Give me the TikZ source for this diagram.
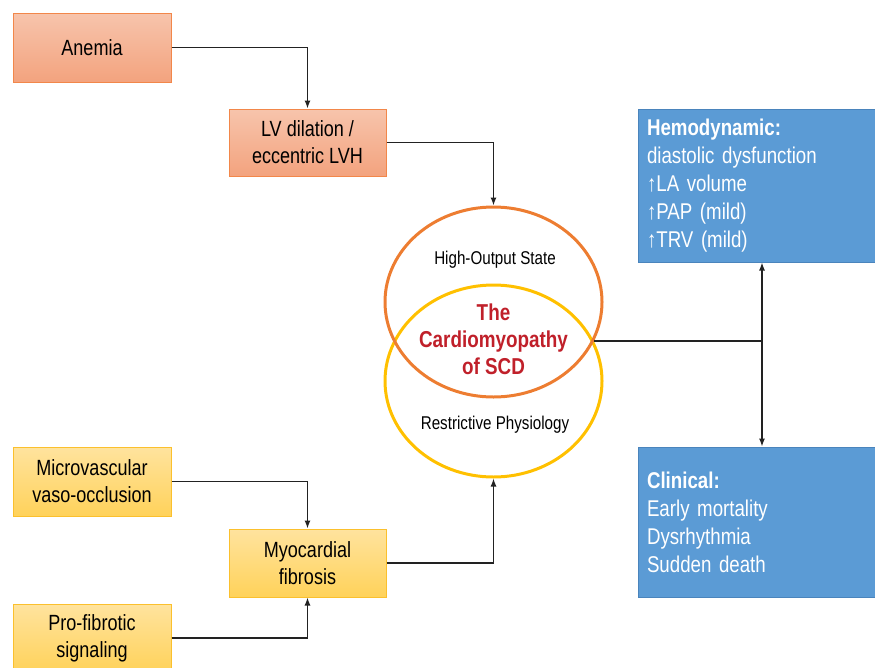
\documentclass[tikz,border=0pt]{standalone}
\usepackage{fontspec}
\setmainfont{Liberation Sans}[FakeStretch=0.82]
\usetikzlibrary{arrows.meta,shapes.geometric,positioning}

\definecolor{salmontop}{HTML}{F7C4AC}
\definecolor{salmonbot}{HTML}{F3A37E}
\definecolor{salmonline}{HTML}{F2874A}
\definecolor{sandtop}{HTML}{FFE39E}
\definecolor{sandbot}{HTML}{FFD25A}
\definecolor{sandline}{HTML}{FBC02D}
\definecolor{steel}{HTML}{5B9BD5}
\definecolor{steelline}{HTML}{4A84BC}
\definecolor{ringorange}{HTML}{ED7D31}
\definecolor{ringyellow}{HTML}{FFC000}
\definecolor{scdred}{HTML}{C0202A}
\definecolor{wire}{HTML}{222222}

\tikzset{
	box/.style={rectangle, align=center, inner sep=0pt, line width=1pt, text=black, font=\fontsize{22}{27}\selectfont},
	orangebox/.style={box, draw=salmonline, top color=salmontop, bottom color=salmonbot},
	yellowbox/.style={box, draw=sandline, top color=sandtop, bottom color=sandbot},
	bluebox/.style={rectangle, draw=steelline, fill=steel, line width=1pt, text=white, align=left,
		text width=220pt, inner xsep=9pt, minimum width=238pt, font=\fontsize{22.8}{28}\selectfont},
	ring/.style={ellipse, line width=3pt, minimum width=217pt},
	post/.style={-{Latex[length=8pt,width=6pt]}, line width=1.3pt, draw=wire},
	wireline/.style={line width=1.3pt, draw=wire}
}

\begin{document}
\begin{tikzpicture}[x=1pt, y=-1pt]
	\useasboundingbox (0,0) rectangle (875,667);

	% causes
	\node [orangebox, minimum width=158pt, minimum height=69pt]	(Anemia)		at (92,47.5)	{Anemia};
	\node [orangebox, minimum width=157pt, minimum height=67pt]	(LVdilation)	at (307.5,142.5)	{LV dilation /\\eccentric LVH};
	\node [yellowbox, minimum width=158pt, minimum height=69pt]	(Microvascular)	at (92,481.5)	{Microvascular\\vaso-occlusion};
	\node [yellowbox, minimum width=157pt, minimum height=68pt]	(Fibrosis)		at (307.5,563)	{Myocardial\\fibrosis};
	\node [yellowbox, minimum width=158pt, minimum height=68pt]	(Profibrotic)	at (92,638)		{Pro-fibrotic\\signaling};

	% the two rings
	\node [ring, draw=ringyellow, minimum height=192pt]	(Restrictive)	at (493.5,381)	{};
	\node [ring, draw=ringorange, minimum height=190pt]	(HighOutput)	at (493.5,302)	{};
	\node [font=\fontsize{18.5}{22}\selectfont]	(HighLabel)		at (495,260)	{High-Output State};
	\node [font=\fontsize{18.5}{22}\selectfont]	(RestLabel)		at (495,425)	{Restrictive Physiology};
	\node [align=center, text=scdred, font=\bfseries\fontsize{23}{27}\selectfont]	(SCD)	at (493.5,339)	{The\\Cardiomyopathy\\of SCD};

	% outcomes
	\node [bluebox, minimum height=153pt]	(Hemodynamic)	at (757,185.5)	{\textbf{Hemodynamic:}\\diastolic dysfunction\\↑LA volume\\↑PAP (mild)\\↑TRV (mild)};
	\node [bluebox, minimum height=150pt]	(Clinical)		at (757,522)	{\textbf{Clinical:}\\Early mortality\\Dysrhythmia\\Sudden death};

	\coordinate (Cross)		at (594,341);
	\coordinate (Junction)	at (762,341);

	% connectors
	\draw [post] (Anemia) -| (LVdilation);
	\draw [post] (LVdilation) -| (HighOutput);
	\draw [post] (Microvascular) -| (Fibrosis);
	\draw [post] (Profibrotic) -| (Fibrosis);
	\draw [post] (Fibrosis) -| (Restrictive);
	\draw [wireline] (Cross) -- (Junction);
	\draw [post] (Junction) -- (Junction |- Hemodynamic.south);
	\draw [post] (Junction) -- (Junction |- Clinical.north);
\end{tikzpicture}
\end{document}
